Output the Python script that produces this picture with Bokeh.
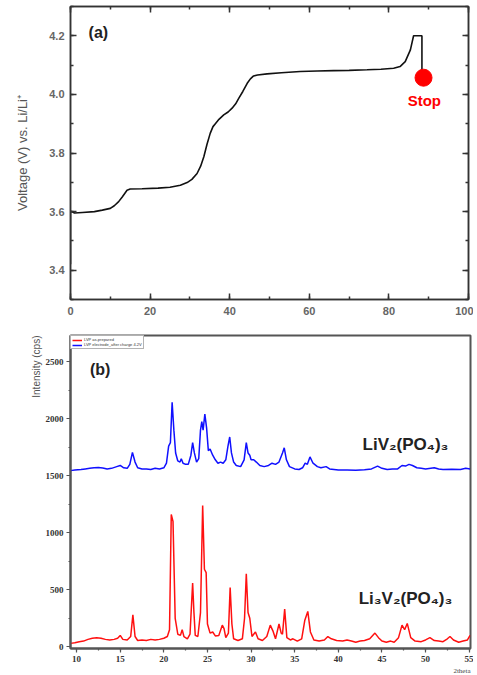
import math
from bokeh.plotting import figure
from bokeh.models import (LinearAxis, Range1d, Label, Legend, LegendItem, Title,
                          SingleIntervalTicker, CustomJSTickFormatter, NumeralTickFormatter)
from bokeh.layouts import column
from bokeh.embed import file_html
from bokeh.resources import INLINE

# ---------------- Panel (a): charge curve ----------------
capacity = [0, 0, 0.3, 1, 3, 6, 8, 10, 11, 12.1, 13, 14.2, 15, 18, 22, 25, 27.6, 29.3, 30.5,
            31.8, 32.7, 33.5, 34.3, 35.1, 35.8, 36.4, 37.3, 38.5, 39.6, 40.6, 41.5, 42.3, 43.3,
            44.4, 45.2, 46.0, 47, 49.4, 53, 57.7, 62, 66.1, 70, 74.5, 78, 81.2, 82.8, 84.1,
            85.4, 86.2, 88.3, 88.3]
voltage = [3.42, 3.60, 3.60, 3.595, 3.597, 3.600, 3.605, 3.611, 3.62, 3.634, 3.65, 3.673, 3.677,
           3.678, 3.68, 3.683, 3.69, 3.699, 3.71, 3.73, 3.755, 3.787, 3.83, 3.867, 3.89, 3.90,
           3.915, 3.93, 3.94, 3.953, 3.968, 3.987, 4.01, 4.038, 4.053, 4.063, 4.066, 4.07, 4.074,
           4.078, 4.08, 4.081, 4.082, 4.084, 4.086, 4.089, 4.095, 4.112, 4.152, 4.2, 4.2, 4.057]
stop_x = [88.7]
stop_y = [4.057]

# ---------------- Panel (b): XRD patterns ----------------
red_x = [9.3, 9.8, 10.3, 10.8, 11.3, 11.8, 12.3, 12.8, 13.3, 13.8, 14.3, 14.7, 15.0, 15.3, 15.8,
         16.2, 16.45, 16.7, 17.0, 17.5, 18.0, 18.5, 19.0, 19.5, 20.0, 20.4, 20.65, 20.85, 21.05,
         21.3, 21.6, 21.9, 22.1, 22.3, 22.7, 23.0, 23.3, 23.45, 23.6, 23.9, 24.2, 24.45, 24.65,
         24.85, 25.0, 25.3, 25.6, 25.9, 26.3, 26.7, 26.9, 27.1, 27.4, 27.6, 27.8, 28.0, 28.5,
         29.0, 29.25, 29.45, 29.65, 29.85, 30.1, 30.5, 30.8, 31.3, 31.8, 32.2, 32.5, 32.8, 33.2,
         33.45, 33.6, 33.85, 34.1, 34.5, 34.8, 35.3, 35.8, 36.15, 36.5, 36.8, 37.2, 37.8, 38.4,
         38.8, 39.2, 39.8, 40.5, 41.0, 41.5, 42.0, 42.5, 43.0, 43.6, 44.2, 44.6, 45.0, 45.5,
         46.0, 46.4, 46.9, 47.3, 47.6, 47.9, 48.3, 48.8, 49.5, 50.0, 50.5, 51.0, 51.5, 52.0,
         52.5, 52.8, 53.2, 53.8, 54.3, 54.8, 55.1]
red_y = [30, 35, 45, 50, 65, 75, 80, 75, 65, 60, 65, 75, 100, 65, 60,
         90, 280, 90, 55, 60, 55, 65, 60, 65, 75, 90, 150, 1160, 1100,
         250, 110, 100, 150, 90, 70, 110, 560, 300, 100, 90, 300, 1240, 680,
         650, 200, 120, 130, 95, 100, 190, 160, 80, 120, 520, 200, 70, 55,
         70, 250, 640, 300, 250, 90, 130, 70, 55, 90, 190, 140, 70, 200,
         120, 110, 330, 80, 60, 70, 50, 70, 230, 310, 130, 60, 50, 60,
         90, 70, 55, 50, 60, 50, 40, 50, 55, 70, 120, 80, 50, 40,
         50, 40, 80, 190, 150, 205, 80, 50, 45, 60, 80, 55, 50, 45,
         70, 90, 60, 40, 50, 60, 100]

blue_x = [9.3, 9.8, 10.5, 11.0, 11.5, 12.0, 12.5, 13.0, 13.5, 14.0, 14.6, 15.0, 15.4, 15.8, 16.1,
          16.4, 16.7, 17.0, 17.5, 18.0, 18.5, 19.0, 19.5, 20.0, 20.3, 20.55, 20.75, 20.95, 21.15,
          21.35, 21.6, 21.85, 22.0, 22.2, 22.5, 22.8, 23.1, 23.3, 23.5, 23.75, 24.0, 24.2, 24.35,
          24.5, 24.7, 24.9, 25.1, 25.3, 25.6, 25.9, 26.2, 26.5, 26.8, 27.1, 27.35, 27.55, 27.75,
          28.0, 28.3, 28.8, 29.2, 29.45, 29.65, 29.85, 30.0, 30.3, 30.6, 31.0, 31.5, 32.0, 32.4,
          32.8, 33.2, 33.6, 33.8, 34.05, 34.4, 35.0, 35.5, 35.9, 36.2, 36.45, 36.75, 37.1, 37.6,
          38.0, 38.6, 39.0, 40.0, 41.0, 42.0, 43.0, 43.8, 44.5, 45.0, 45.6, 46.2, 46.8, 47.3,
          47.7, 48.1, 48.5, 49.0, 49.5, 50.0, 51.0, 51.5, 52.0, 53.0, 54.0, 54.6, 55.1]
blue_y = [1545, 1550, 1555, 1560, 1565, 1570, 1572, 1568, 1560, 1565, 1580, 1590, 1570, 1565, 1600,
          1705, 1620, 1570, 1560, 1560, 1555, 1565, 1560, 1570, 1610, 1760, 1790, 2145, 1900,
          1700, 1630, 1620, 1650, 1610, 1600, 1600, 1680, 1790, 1700, 1620, 1650, 1900, 1975,
          1900, 2040, 1920, 1720, 1735, 1680, 1640, 1610, 1620, 1610, 1640, 1760, 1840, 1700,
          1620, 1590, 1580, 1640, 1790, 1700, 1680, 1640, 1640, 1620, 1590, 1580, 1590, 1610,
          1600, 1620, 1700, 1745, 1640, 1580, 1560, 1555, 1570, 1610, 1600, 1665, 1610, 1580,
          1570, 1580, 1560, 1550, 1550, 1548, 1552, 1560, 1585, 1565, 1555, 1560, 1560, 1590,
          1585, 1600, 1590, 1570, 1565, 1560, 1570, 1560, 1555, 1558, 1555, 1565, 1560]

x_ticks_b_interval = 5
y_ticks_b_interval = 500

FONT = "Liberation Sans"
NARROW = "Liberation Sans Narrow"

# ======== Figure (a) ========
pa = figure(output_backend="svg", toolbar_location=None,
            frame_width=398, frame_height=293,
            x_range=Range1d(0, 100), y_range=Range1d(3.3, 4.3),
            min_border_left=70, min_border_right=5, min_border_top=6, min_border_bottom=21)
pa.grid.visible = False
pa.outline_line_color = "#333333"
pa.outline_line_width = 1.5
pa.background_fill_color = "white"
pa.border_fill_color = "white"

pa.xaxis.ticker = SingleIntervalTicker(interval=20, num_minor_ticks=2)
pa.yaxis.ticker = SingleIntervalTicker(interval=0.2, num_minor_ticks=2)
pa.yaxis.formatter = NumeralTickFormatter(format="0.0")
pa.yaxis.axis_label = "Voltage (V) vs. Li/Li\u207a"
pa.yaxis.axis_label_text_font = FONT
pa.yaxis.axis_label_text_font_style = "normal"
pa.yaxis.axis_label_text_font_size = "13px"
pa.yaxis.axis_label_text_color = "#555555"
pa.yaxis.axis_label_standoff = 16

def style_axis_a(ax):
    ax.major_tick_in = 6
    ax.major_tick_out = 0
    ax.minor_tick_in = 3
    ax.minor_tick_out = 0
    ax.axis_line_color = "#333333"
    ax.axis_line_width = 1.5
    ax.major_tick_line_color = "#333333"
    ax.minor_tick_line_color = "#333333"
    ax.major_tick_line_width = 1.5
    ax.minor_tick_line_width = 1.5
    ax.major_label_text_font = FONT
    ax.major_label_text_font_size = "11px"
    ax.major_label_text_font_style = "bold"
    ax.major_label_text_color = "#666666"

for ax in pa.xaxis + pa.yaxis:
    style_axis_a(ax)
pa.xaxis.major_label_standoff = 7
pa.yaxis.major_label_standoff = 6

empty = CustomJSTickFormatter(code="return ''")
top_ax = LinearAxis(ticker=SingleIntervalTicker(interval=20, num_minor_ticks=2), formatter=empty,
                    major_label_standoff=0)
right_ax = LinearAxis(ticker=SingleIntervalTicker(interval=0.2, num_minor_ticks=2), formatter=empty,
                      major_label_standoff=0)
style_axis_a(top_ax)
style_axis_a(right_ax)
pa.add_layout(top_ax, "above")
pa.add_layout(right_ax, "right")

pa.line(capacity, voltage, line_color="#111111", line_width=1.6)
pa.line([capacity[-1], stop_x[0]], [voltage[-1], stop_y[0]], line_color="#111111", line_width=1.6)
pa.scatter(stop_x, stop_y, size=17, fill_color="#ff0000", line_color="#ff0000")

pa.add_layout(Label(x=7.0, y=4.211, text="(a)", text_font=FONT, text_font_size="16px",
                    text_font_style="bold", text_color="#222222",
                    text_align="center", text_baseline="middle"))
pa.add_layout(Label(x=88.9, y=3.979, text="Stop", text_font=FONT, text_font_size="15px",
                    text_font_style="bold", text_color="#ff0000",
                    text_align="center", text_baseline="middle"))

# ======== Figure (b) ========
pb = figure(output_backend="svg", toolbar_location=None,
            frame_width=400, frame_height=313,
            x_range=Range1d(9.3, 55.15), y_range=Range1d(-15, 2730),
            min_border_left=68, min_border_right=5, min_border_top=15, min_border_bottom=27)
pb.grid.visible = False
pb.outline_line_color = "#555555"
pb.outline_line_width = 2
pb.background_fill_color = "white"
pb.border_fill_color = "white"

pb.xaxis.ticker = SingleIntervalTicker(interval=x_ticks_b_interval, num_minor_ticks=2)
pb.yaxis.ticker = SingleIntervalTicker(interval=y_ticks_b_interval, num_minor_ticks=2)
for ax in pb.xaxis + pb.yaxis:
    ax.major_tick_in = 0
    ax.major_tick_out = 4
    ax.minor_tick_in = 0
    ax.minor_tick_out = 2
    ax.axis_line_color = "#555555"
    ax.axis_line_width = 2
    ax.major_tick_line_color = "#555555"
    ax.minor_tick_line_color = "#555555"
    ax.major_tick_line_width = 1.2
    ax.minor_tick_line_width = 1.2
    ax.major_label_text_font = NARROW
    ax.major_label_text_font_size = "9px"
    ax.major_label_text_font_style = "bold"
    ax.major_label_text_color = "#333333"
    ax.major_label_standoff = 3

r_red = pb.line(red_x, red_y, line_color="#ff1010", line_width=1.5)
r_blue = pb.line(blue_x, blue_y, line_color="#1010ff", line_width=1.5)

legend = Legend(items=[LegendItem(label="LVP as-prepared", renderers=[r_red]),
                       LegendItem(label="LVP electrode_after charge 4.2V", renderers=[r_blue])],
                location="top_left", label_text_font=FONT, label_text_font_size="4px",
                label_text_color="#333333", glyph_width=10, glyph_height=4, label_height=4,
                label_standoff=2, padding=1, spacing=0, margin=0,
                border_line_color="#666666", border_line_width=1, background_fill_alpha=1)
pb.add_layout(legend)

pb.add_layout(Label(x=12.7, y=2430, text="(b)", text_font=FONT, text_font_size="16px",
                    text_font_style="bold", text_color="#222222",
                    text_align="center", text_baseline="middle"))
pb.add_layout(Label(x=47.7, y=1777, text="LiV\u2082(PO\u2084)\u2083", text_font=FONT,
                    text_font_size="17px", text_font_style="bold", text_color="#222222",
                    text_align="center", text_baseline="middle"))
pb.add_layout(Label(x=47.7, y=425, text="Li\u2083V\u2082(PO\u2084)\u2083", text_font=FONT,
                    text_font_size="17px", text_font_style="bold", text_color="#222222",
                    text_align="center", text_baseline="middle"))

ylab = Title(text="Intensity (cps)", align="right", text_font=FONT, text_font_size="10px",
             text_font_style="normal", text_color="#555555", standoff=2, offset=0)
pb.add_layout(ylab, "left")
xlab = Title(text="2theta", align="right", text_font=NARROW, text_font_size="7px",
             text_font_style="normal", text_color="#444444", standoff=0, offset=0)
pb.add_layout(xlab, "below")

layout = column(pa, pb, spacing=0)
with open("out.html", "w") as f:
    f.write(file_html(layout, INLINE))
